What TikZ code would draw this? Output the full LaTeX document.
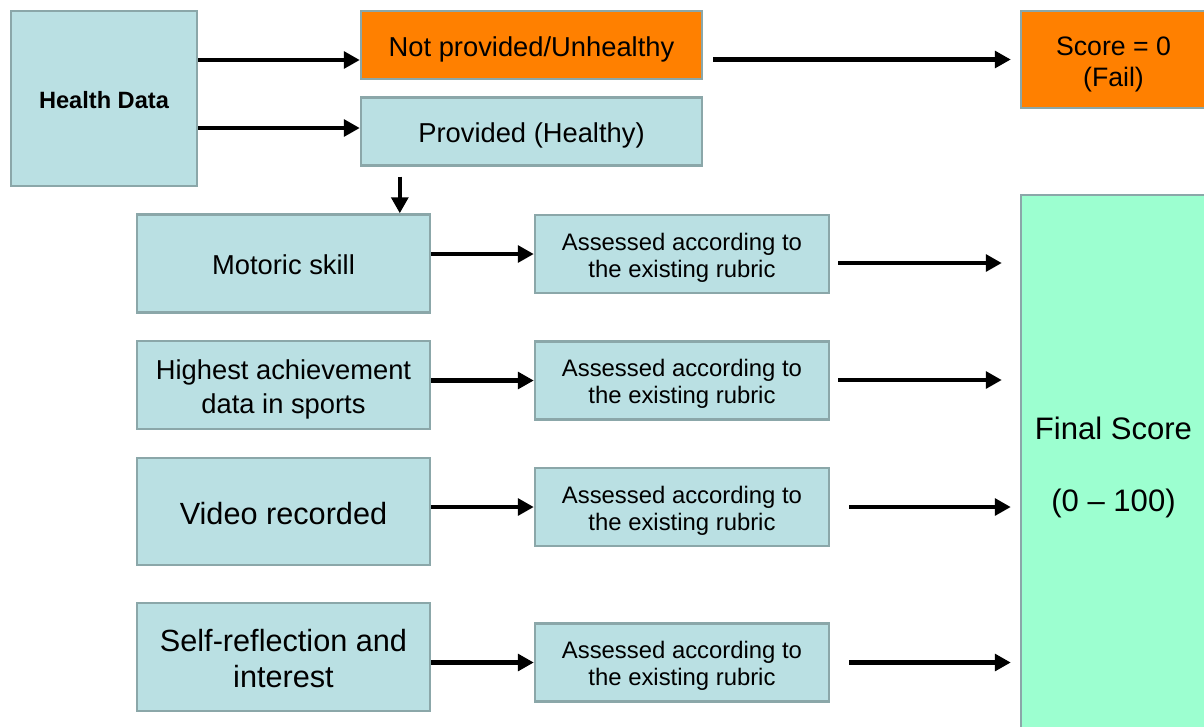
\documentclass[tikz,border=0pt]{standalone}
\usepackage{fontspec}
\setmainfont{Liberation Sans}
\usetikzlibrary{arrows.meta,positioning,calc}
\definecolor{boxblue}{RGB}{186,224,227}
\definecolor{boxline}{RGB}{139,167,169}
\definecolor{failorange}{RGB}{255,128,0}
\definecolor{scoremint}{RGB}{156,255,208}
\newcommand{\topstrut}{\rule[-0.212em]{0pt}{1.25em}}
\newcommand{\botstrut}{\rule[-0.212em]{0pt}{1.117em}}

\begin{document}
\begin{tikzpicture}[x=0.75pt,y=-0.75pt,
          box/.style={draw=boxline,
              line width=1.8pt,
              fill=boxblue,
              align=center,
              inner sep=0pt,
              font=\fontsize{20.5}{25.5}\selectfont},
          failbox/.style={box, fill=failorange},
          item/.style={box, minimum width=219.75pt},
          rubric/.style={box,
              minimum width=220.5pt,
              minimum height=58.5pt,
              font=\fontsize{17.9}{20.25}\selectfont},
          arr/.style={line width=3.4pt, -{Triangle[length=12pt,width=12.5pt]}},
        ]
        \clip (0,0) rectangle (1204,726);

        \node[box, minimum width=139.5pt, minimum height=131.25pt,
              font=\bfseries\fontsize{17.7}{20}\selectfont] (hd) at (104,98.5) {\topstrut Health Data\botstrut};
        \node[failbox, minimum width=255.75pt, minimum height=51pt] (np) at (531.5,45) {\topstrut Not provided/Unhealthy\botstrut};
        \node[box, minimum width=255.75pt, minimum height=51pt] (pv) at (531.5,131.5) {\topstrut Provided (Healthy)\botstrut};
        \node[failbox, minimum width=138.75pt, minimum height=72.75pt,
              font=\fontsize{20}{23.25}\selectfont] (sc) at (1113.5,59.5) {\topstrut Score = 0\\(Fail)\botstrut};

        \node[item, minimum height=73.5pt] (ms) at (283.5,263.5) {\topstrut Motoric skill\botstrut};
        \node[item, minimum height=66pt] (ha) at (283.5,385) {\topstrut Highest achievement\\data in sports\botstrut};
        \node[item, minimum height=80.25pt, font=\fontsize{23}{27}\selectfont] (vr) at (283.5,511.5) {\topstrut Video recorded\botstrut};
        \node[item, minimum height=81pt, font=\fontsize{23}{27}\selectfont] (sr) at (283.5,657) {\topstrut Self-reflection and\\interest\botstrut};

        \node[rubric] (as1) at (682,254) {\topstrut Assessed according to\\the existing rubric\botstrut};
        \node[rubric] (as2) at (682,380.5) {\topstrut Assessed according to\\the existing rubric\botstrut};
        \node[rubric] (as3) at (682,507) {\topstrut Assessed according to\\the existing rubric\botstrut};
        \node[rubric] (as4) at (682,662.5) {\topstrut Assessed according to\\the existing rubric\botstrut};

        \node[box, fill=scoremint, minimum width=138.75pt, minimum height=405pt,
              font=\fontsize{23.3}{28}\selectfont] (fs) at (1113.5,465) {\botstrut Final Score\\[26pt](0 \textendash{} 100)\botstrut};

        \draw[arr] ($(hd.east |- np.west)+(0,15)$) -- ($(np.west)+(0,15)$);
        \draw[arr] ($(hd.east |- pv.west)+(0,-3.5)$) -- ($(pv.west)+(0,-3.5)$);
        \draw[arr, shorten <=7.5pt, shorten >=6.75pt] (np.east |- sc.west) -- (sc.west);
        \draw[arr, shorten <=7.5pt] ($(pv.south west)+(40,0)$) coordinate (dn) -- (dn |- ms.north);

        \draw[arr] (as1.west -| ms.east) -- (as1.west);
        \draw[arr] (as2.west -| ha.east) -- (as2.west);
        \draw[arr] (as3.west -| vr.east) -- (as3.west);
        \draw[arr] (as4.west -| sr.east) -- (as4.west);

        \draw[arr, shorten <=6pt, shorten >=13.5pt] ($(as1.east)+(0,9)$) coordinate (o1) -- (o1 -| fs.west);
        \draw[arr, shorten <=6pt, shorten >=13.5pt] ($(as2.east)+(0,-0.5)$) coordinate (o2) -- (o2 -| fs.west);
        \draw[arr, shorten <=14.25pt, shorten >=6.75pt] (as3.east) -- (as3.east -| fs.west);
        \draw[arr, shorten <=14.25pt, shorten >=6.75pt] (as4.east) -- (as4.east -| fs.west);
      \end{tikzpicture}
\end{document}
